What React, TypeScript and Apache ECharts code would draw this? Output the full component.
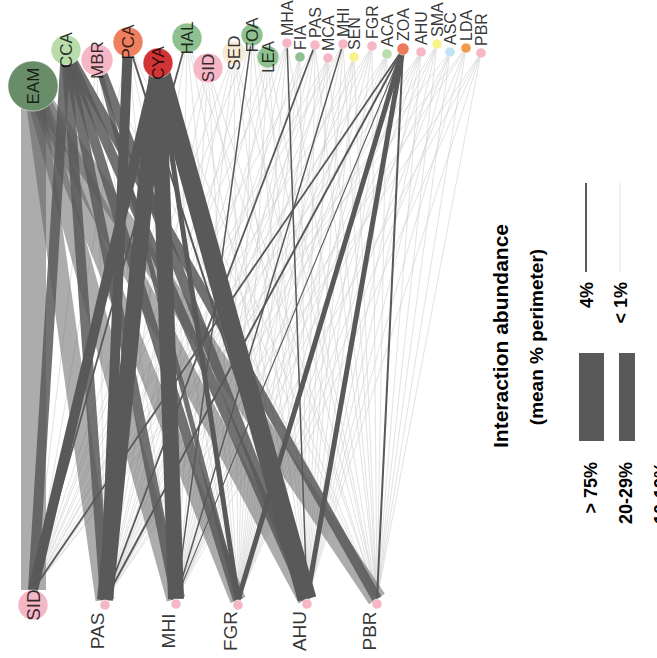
import { useEffect, useRef } from "react";
import * as echarts from "echarts";

// ---------- DATA ----------
// Top level: organisms in contact with coral perimeter
const topCodes = [
  "EAM", "CCA", "MBR", "PCA", "CYA", "HAL", "SID", "SED", "FOA", "LEA", "MHA", "FIA",
  "PAS", "MCA", "MHI", "SEN", "FGR", "ACA", "ZOA", "AHU", "SMA", "ASC", "LDA", "PBR",
];
// Bottom level: host corals
const bottomCodes = ["SID", "PAS", "MHI", "FGR", "AHU", "PBR"];

// Interaction abundance (mean % perimeter) of each top code (order of topCodes) with each host
const pctSID = [80, 10, 0.5, 0.5, 15, 3, 0.5, 0.5, 0.5, 0.5, 0.5, 0, 0.5, 0.5, 0.5, 0, 0.5, 0.5, 3, 0.5, 0, 0.5, 0.5, 0];
const pctPAS = [35, 12, 0.5, 12, 25, 0.5, 0.5, 0.5, 0.5, 0.5, 0.5, 0.5, 3, 0.5, 0.5, 0.5, 0.5, 0.5, 4, 0.5, 0.5, 0, 0.5, 0.5];
const pctMHI = [35, 12, 0.5, 0.5, 25, 0.5, 0.5, 0.5, 2, 0.5, 0.5, 0.5, 0.5, 0.5, 2, 0.5, 0.5, 0.5, 1, 0.5, 0.5, 0.5, 0, 0.5];
const pctFGR = [25, 12, 7, 0.5, 7, 0.5, 0.5, 0.5, 0.5, 0.5, 0.5, 0.5, 0.5, 0.5, 0.5, 0.5, 0.5, 0.5, 7, 0.5, 0.5, 0.5, 0.5, 0.5];
const pctAHU = [35, 12, 12, 4, 35, 0.5, 0.5, 0.5, 0.5, 0.5, 2, 0.5, 0.5, 0.5, 0.5, 0.5, 0.5, 0.5, 7, 0.5, 0.5, 0.5, 0.5, 0.5];
const pctPBR = [30, 15, 0.5, 0.5, 0.5, 0.5, 0.5, 0.5, 0.5, 0.5, 0.5, 0, 0.5, 0.5, 0.5, 0.5, 0.5, 0.5, 4, 0.5, 0.5, 0.5, 0.5, 0.5];
const hostValues = [pctSID, pctPAS, pctMHI, pctFGR, pctAHU, pctPBR];

// Legend entries
const legendTitle = "Interaction abundance";
const legendSubtitle = "(mean % perimeter)";
const legendLineLabels = ["4%", "< 1%"];
const legendLineValues = [4, 0.5];
const legendBarLabels = ["> 75%", "20-29%", "10-19%"];
const legendBarValues = [80, 25, 15];

// ---------- LAYOUT & STYLE ----------
const topLayout: Record<string, [number, number, number, string]> = {
  EAM: [33, 86, 25, "#698d69"],
  CCA: [66, 50, 15, "#b9dcab"],
  MBR: [97, 60, 16, "#f5b6c6"],
  PCA: [128, 42, 15, "#ee805f"],
  CYA: [158, 63, 15, "#d03434"],
  HAL: [187, 38, 15, "#8fc08f"],
  SID: [208, 68, 15, "#f5b6c6"],
  SED: [234, 53, 12, "#f9ead6"],
  FOA: [252, 35, 11, "#8fc08f"],
  LEA: [268, 57, 11, "#8fc08f"],
  MHA: [287, 43, 5, "#f5b6c6"],
  FIA: [300, 57, 5, "#8fc08f"],
  PAS: [315, 45, 5, "#f5b6c6"],
  MCA: [328, 58, 5, "#f5b6c6"],
  MHI: [343, 44, 5, "#f5b6c6"],
  SEN: [354, 57, 5, "#f8f28c"],
  FGR: [372, 46, 5, "#f5b6c6"],
  ACA: [387, 54, 5, "#b9dcab"],
  ZOA: [403, 49, 6, "#ec7a5a"],
  AHU: [421, 52, 5, "#f5b6c6"],
  SMA: [437, 44, 5, "#f8f28c"],
  ASC: [450, 52, 5, "#c0e4f6"],
  LDA: [466, 48, 5, "#f29a4c"],
  PBR: [481, 53, 5, "#f5b6c6"],
};
const bottomLayout: Record<string, [number, number, number, string]> = {
  SID: [33, 605, 15, "#f5b6c6"],
  PAS: [105, 605, 5, "#f5b6c6"],
  MHI: [176, 604, 5, "#f5b6c6"],
  FGR: [238, 605, 5, "#f5b6c6"],
  AHU: [307, 604, 5, "#f5b6c6"],
  PBR: [377, 604, 5, "#f5b6c6"],
};
const sourceOpacity: Record<string, number> = { EAM: 0.5, CCA: 0.85, MBR: 0.85 };
const FONT = "'Liberation Sans', Arial, Helvetica, sans-serif";
const DARK = "#595959";
const LIGHT = "#cfcfcf";

function widthFor(p: number): number {
  if (p >= 75) return 25;
  if (p >= 50) return 22;
  if (p >= 30) return 19;
  if (p >= 20) return 16;
  if (p >= 10) return 10;
  if (p >= 5) return 5;
  if (p >= 4) return 2;
  if (p >= 3) return 1.8;
  if (p >= 2) return 1.5;
  if (p >= 1) return 1.1;
  return 0.6;
}

function buildEdges() {
  const items: { layer: number; d: any }[] = [];
  topCodes.forEach((t, i) => {
    bottomCodes.forEach((b, j) => {
      const p = hostValues[j][i];
      if (!p) return;
      const [tx, ty] = topLayout[t];
      const [bx, by, br] = bottomLayout[b];
      const thin = p < 1;
      const op = thin ? 1 : sourceOpacity[t] ?? 1;
      const layer = thin ? 0 : t === "EAM" ? 1 : op < 1 ? 2 : 3;
      items.push({
        layer,
        d: {
          coords: [
            [tx, ty],
            [bx, by - br],
          ],
          lineStyle: { width: widthFor(p), color: thin ? LIGHT : DARK, opacity: op, curveness: 0 },
        },
      });
    });
  });
  items.sort((a, b) => a.layer - b.layer);
  return items.map((x) => x.d);
}

function buildNodes() {
  const nodes: any[] = [];
  topCodes.forEach((t) => {
    const [x, y, r, c] = topLayout[t];
    nodes.push({ value: [x, y], symbolSize: r * 2, itemStyle: { color: c } });
  });
  bottomCodes.forEach((b) => {
    const [x, y, r, c] = bottomLayout[b];
    nodes.push({ value: [x, y], symbolSize: r * 2, itemStyle: { color: c } });
  });
  return nodes;
}

function buildLabels() {
  const labels: any[] = [];
  topCodes.forEach((t) => {
    const [x, y, r] = topLayout[t];
    const big = r >= 11;
    labels.push({
      name: t,
      value: big ? [x, y] : [x, y - r - 2],
      label: { align: big ? "center" : "left", fontSize: big ? 17 : 16 },
    });
  });
  bottomCodes.forEach((b) => {
    const [x, y, r] = bottomLayout[b];
    const big = r >= 11;
    labels.push({
      name: b,
      value: big ? [x, y] : [x - 8, 631],
      label: { align: "center", fontSize: 19 },
    });
  });
  return labels;
}

function buildLegend() {
  const g: any[] = [];
  const rotText = (text: string, x: number, y: number, size: number, align: string) => ({
    type: "text",
    x,
    y,
    rotation: Math.PI / 2,
    style: {
      text,
      x: 0,
      y: 0,
      font: `bold ${size}px ${FONT}`,
      fill: "#000",
      align,
      verticalAlign: "middle",
      textAlign: align,
      textVerticalAlign: "middle",
    },
  });
  g.push(rotText(legendTitle, 500, 336, 21, "center"));
  g.push(rotText(legendSubtitle, 536, 337, 19, "center"));
  const lineXs = [586, 620];
  legendLineValues.forEach((v, i) => {
    g.push({
      type: "line",
      shape: { x1: lineXs[i], y1: 183, x2: lineXs[i], y2: 272 },
      style: { stroke: v < 1 ? LIGHT : DARK, lineWidth: widthFor(v) },
    });
    g.push(rotText(legendLineLabels[i], lineXs[i] + 1, 282, 18, "right"));
  });
  const barXs = [591.5, 627, 662];
  legendBarValues.forEach((v, i) => {
    g.push({
      type: "line",
      shape: { x1: barXs[i], y1: 353, x2: barXs[i], y2: 441 },
      style: { stroke: DARK, lineWidth: widthFor(v) },
    });
    g.push(rotText(legendBarLabels[i], barXs[i] - 1, 462, 18, "right"));
  });
  return g;
}

export default function App() {
  const ref = useRef<HTMLDivElement>(null);
  useEffect(() => {
    if (!ref.current) return;
    const chart = echarts.init(ref.current, undefined, { renderer: "svg" });
    chart.setOption({
      animation: false,
      backgroundColor: "#ffffff",
      grid: { left: 0, right: 0, top: 0, bottom: 0 },
      xAxis: { type: "value", min: 0, max: 657, show: false },
      yAxis: { type: "value", min: 0, max: 658, inverse: true, show: false },
      series: [
        {
          type: "lines",
          coordinateSystem: "cartesian2d",
          polyline: false,
          large: false,
          silent: true,
          z: 1,
          data: buildEdges(),
        },
        {
          type: "scatter",
          z: 3,
          silent: true,
          itemStyle: { borderColor: "#ffffff", borderWidth: 0.5, opacity: 1 },
          data: buildNodes(),
        },
        {
          type: "scatter",
          z: 4,
          silent: true,
          symbolSize: 1,
          itemStyle: { color: "rgba(0,0,0,0)" },
          label: {
            show: true,
            position: "inside",
            formatter: (p: any) => p.name,
            rotate: 90,
            verticalAlign: "middle",
            fontSize: 17,
            fontFamily: FONT,
            color: "#000",
          },
          data: buildLabels(),
        },
      ],
      graphic: buildLegend(),
    });
    return () => chart.dispose();
  }, []);
  return (
    <div
      ref={ref}
      style={{ position: "fixed", left: 0, top: 0, width: 657, height: 658, background: "#fff" }}
    />
  );
}
